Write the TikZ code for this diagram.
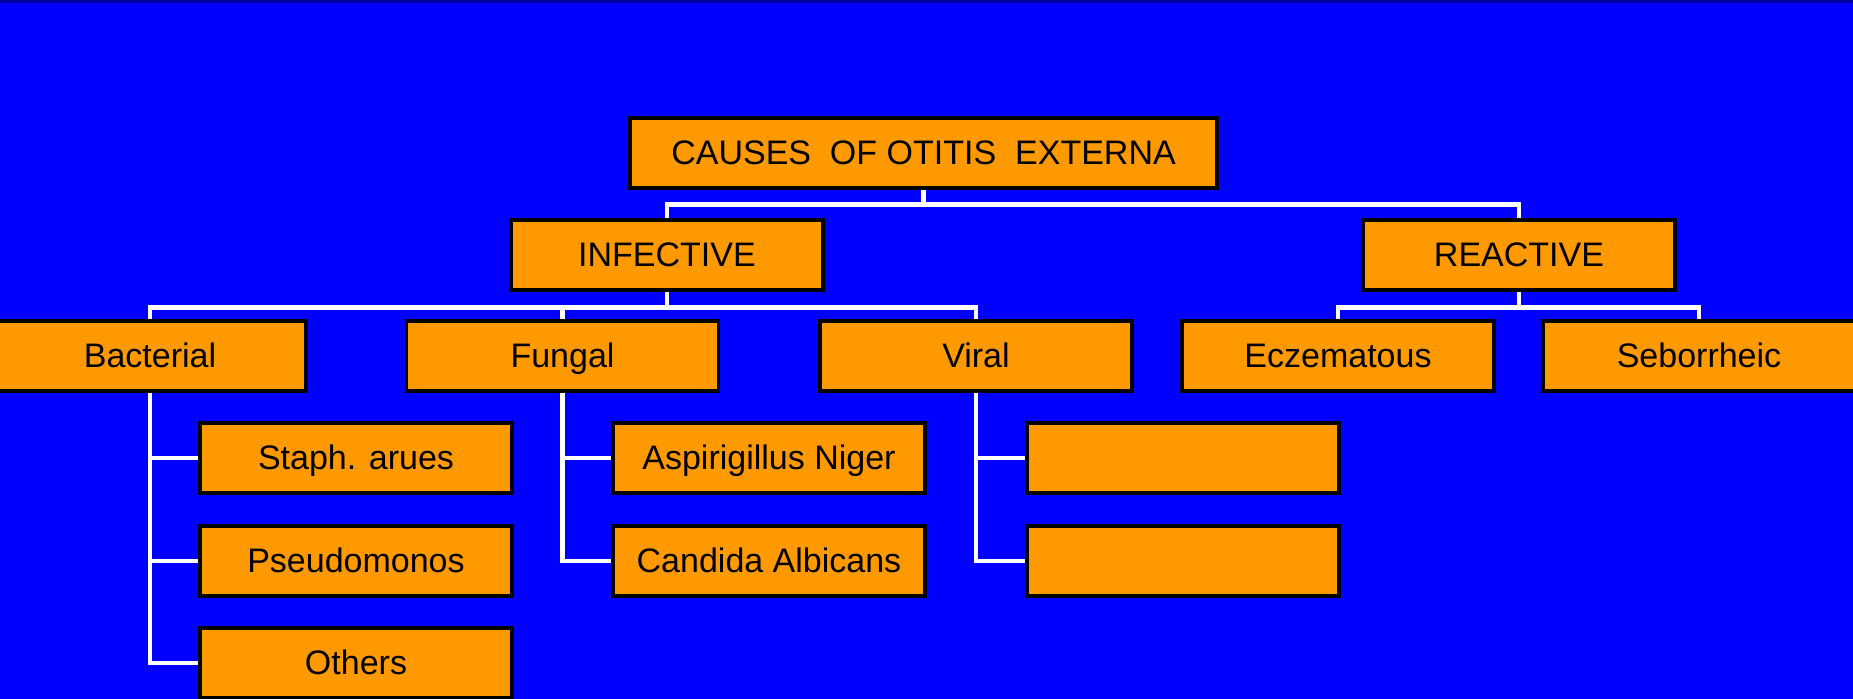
\documentclass[tikz,border=0pt]{standalone}
\usepackage{fontspec}
\setmainfont{Liberation Sans}
\usetikzlibrary{positioning}
\definecolor{slideblue}{RGB}{0,0,255}
\definecolor{topblue}{RGB}{0,0,160}
\definecolor{boxorange}{RGB}{255,153,0}
\tikzset{
	causebox/.style={draw=black,line width=1.6pt,fill=boxorange,minimum width=156pt,
		minimum height=35pt,inner sep=0pt,text height=12.5pt,text depth=0.5pt,
		font=\fontsize{17}{20}\selectfont},
	link/.style={draw=white,line width=2.2pt}
}
\begin{document}
\begin{tikzpicture}[x=0.5pt,y=-0.5pt]
	\useasboundingbox (0,0) rectangle (1853,699);
	\fill[slideblue] (0,0) rectangle (1853,699);
	\fill[topblue] (0,0) rectangle (1853,3);
	\begin{scope}
	\clip (0,0) rectangle (1853,699);
	% tree
	\node[causebox,minimum width=293.5pt] (root) at (923.5,153) {CAUSES\ \ OF OTITIS\ \ EXTERNA};
	\node[causebox] (inf) at (667,255) {INFECTIVE};
	\node[causebox] (rea) at (1519,255) {REACTIVE};
	\node[causebox] (bac) at (150,356) {Bacterial};
	\node[causebox] (fun) at (562.5,356) {Fungal};
	\node[causebox] (vir) at (976,356) {Viral};
	\node[causebox] (ecz) at (1338,356) {Eczematous};
	\node[causebox] (seb) at (1699,356) {Seborrheic};
	\node[causebox] (staph) at (356,458) {Staph. arues};
	\node[causebox] (pseudo) at (356,561) {Pseudomonos};
	\node[causebox] (others) at (356,663) {Others};
	\node[causebox] (asp) at (769,458) {Aspirigillus Niger};
	\node[causebox] (cand) at (769,561) {Candida Albicans};
	\node[causebox] (virA) at (1183,458) {};
	\node[causebox] (virB) at (1183,561) {};
	% connectors
	\foreach \kid in {inf,rea}
		\draw[link] (root.south) -- ++(0,15) -| (\kid.north);
	\foreach \kid in {bac,fun,vir}
		\draw[link] (inf.south) -- ++(0,16) -| (\kid.north);
	\foreach \kid in {ecz,seb}
		\draw[link] (rea.south) -- ++(0,16) -| (\kid.north);
	\foreach \kid in {staph,pseudo,others} \draw[link] (bac.south) |- (\kid.west);
	\foreach \kid in {asp,cand} \draw[link] (fun.south) |- (\kid.west);
	\foreach \kid in {virA,virB} \draw[link] (vir.south) |- (\kid.west);
	\end{scope}
\end{tikzpicture}
\end{document}
